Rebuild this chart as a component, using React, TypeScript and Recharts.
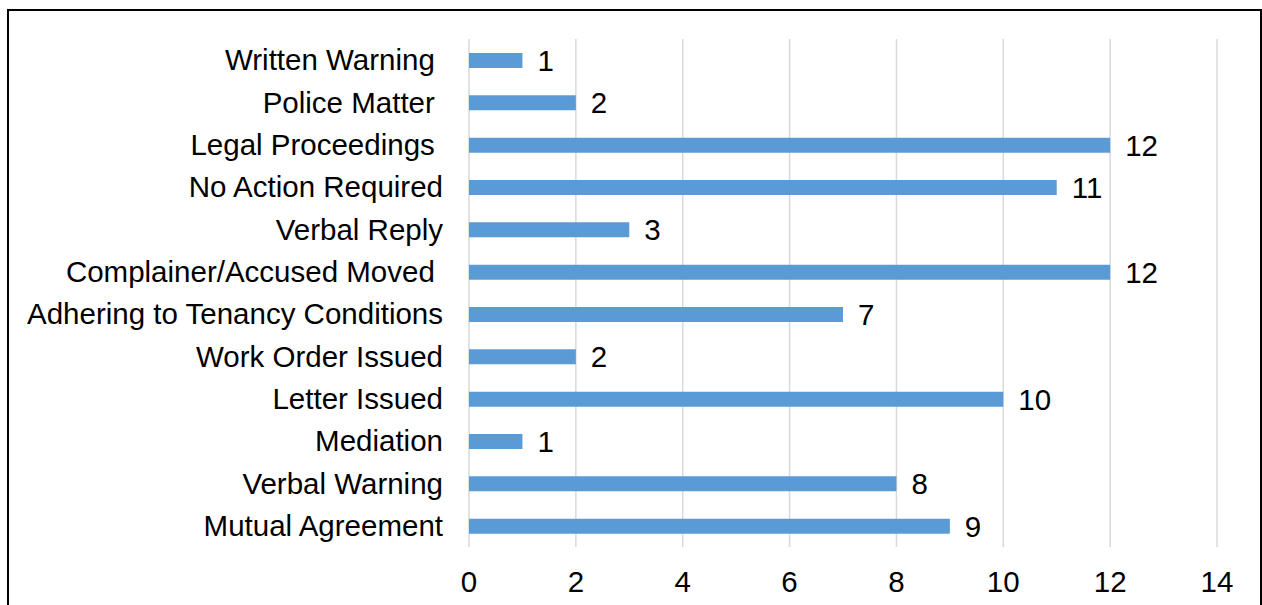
import { Bar, BarChart, CartesianGrid, LabelList, XAxis, YAxis } from "recharts";

// Outcome categories, top to bottom, with their case counts
const outcomes = [
  "Written Warning ",
  "Police Matter ",
  "Legal Proceedings ",
  "No Action Required",
  "Verbal Reply",
  "Complainer/Accused Moved ",
  "Adhering to Tenancy Conditions",
  "Work Order Issued",
  "Letter Issued",
  "Mediation",
  "Verbal Warning",
  "Mutual Agreement",
];
const counts = [1, 2, 12, 11, 3, 12, 7, 2, 10, 1, 8, 9];
const xTicks = [0, 2, 4, 6, 8, 10, 12, 14];

const FONT = '"Liberation Sans", Arial, Helvetica, sans-serif';
const FONT_SIZE = 29.5;
const BAR_COLOR = "#5b9bd5";
const GRID_COLOR = "#d9d9d9";

const rows = outcomes.map((name, i) => ({ name, count: counts[i] }));

function CategoryTick({ x, y, payload }: any) {
  // keep trailing spaces so labels sit where they were typed
  return (
    <text
      x={x}
      y={y}
      dy={10}
      textAnchor="end"
      fill="#000"
      fontSize={FONT_SIZE}
      fontFamily={FONT}
      style={{ whiteSpace: "pre" }}
    >
      {payload.value}
    </text>
  );
}

function ValueTick({ x, y, payload }: any) {
  return (
    <text x={x} y={y} dy={39} textAnchor="middle" fill="#000" fontSize={FONT_SIZE} fontFamily={FONT}>
      {payload.value}
    </text>
  );
}

export default function App() {
  return (
    <div
      style={{
        position: "absolute",
        left: 0,
        top: 0,
        width: 1262,
        height: 605,
        overflow: "hidden",
        background: "#fff",
      }}
    >
      <div
        style={{
          position: "absolute",
          left: 7,
          top: 9,
          width: 1255,
          height: 700,
          boxSizing: "border-box",
          border: "2px solid #000",
        }}
      />
      <div style={{ position: "absolute", left: 0, top: 0 }}>
        <BarChart
          width={1262}
          height={605}
          data={rows}
          layout="vertical"
          margin={{ top: 39, right: 45, bottom: 0, left: 0 }}
        >
          <CartesianGrid horizontal={false} stroke={GRID_COLOR} strokeWidth={1.5} />
          <XAxis
            type="number"
            domain={[0, 14]}
            ticks={xTicks}
            height={58}
            axisLine={false}
            tickLine={false}
            tickMargin={0}
            tick={<ValueTick />}
            interval={0}
          />
          <YAxis
            type="category"
            dataKey="name"
            width={469}
            axisLine={false}
            tickLine={false}
            tickMargin={20}
            tick={<CategoryTick />}
            interval={0}
          />
          <Bar dataKey="count" fill={BAR_COLOR} barSize={15} isAnimationActive={false}>
            <LabelList
              dataKey="count"
              position="right"
              offset={15}
              fill="#000"
              fontSize={FONT_SIZE}
              fontFamily={FONT}
            />
          </Bar>
        </BarChart>
      </div>
    </div>
  );
}
